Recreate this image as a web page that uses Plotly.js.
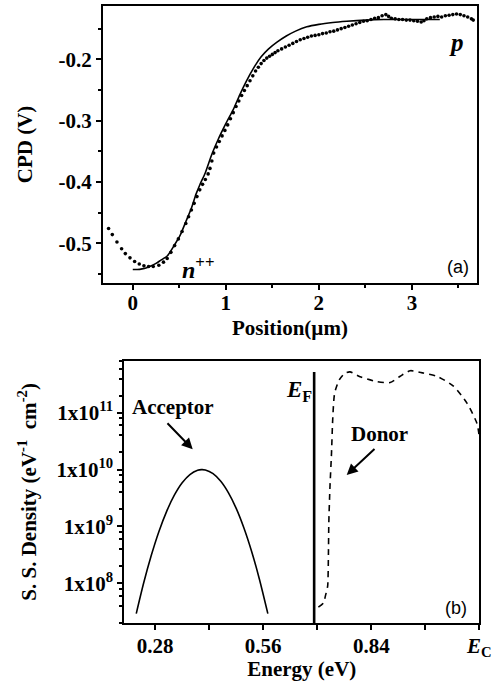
<!DOCTYPE html>
<html>
<head>
<meta charset="utf-8">
<script src="https://cdn.plot.ly/plotly-3.0.1.min.js"></script>
<style>
  html, body { margin: 0; padding: 0; background: #fff; }
  #chart { width: 493px; height: 683px; }
</style>
</head>
<body>
<div id="chart"></div>
<script>
// (a) contact potential difference across the n++/p junction
const posMeas = [-0.26,-0.22,-0.17,-0.12,-0.08,-0.03,0.02,0.07,0.12,0.17,0.22,0.28,0.33,0.37,0.41,0.45,0.49,0.53,0.57,0.60,0.63,0.66,0.69,0.72,0.75,0.78,0.81,0.83,0.85,0.87,0.90,0.93,0.96,0.99,1.02,1.05,1.08,1.11,1.14,1.17,1.20,1.23,1.26,1.29,1.32,1.35,1.38,1.41,1.44,1.47,1.50,1.53,1.56,1.60,1.64,1.68,1.72,1.76,1.80,1.84,1.88,1.92,1.96,2.00,2.04,2.08,2.12,2.16,2.20,2.24,2.28,2.32,2.36,2.40,2.44,2.48,2.52,2.56,2.60,2.64,2.68,2.72,2.75,2.78,2.82,2.86,2.90,2.94,2.98,3.02,3.06,3.10,3.13,3.16,3.20,3.24,3.28,3.32,3.36,3.40,3.44,3.48,3.52,3.56,3.60,3.64,3.66];
const cpdMeas = [-0.476,-0.486,-0.498,-0.509,-0.517,-0.524,-0.530,-0.534,-0.537,-0.538,-0.538,-0.536,-0.531,-0.525,-0.515,-0.504,-0.493,-0.481,-0.468,-0.457,-0.446,-0.435,-0.424,-0.413,-0.404,-0.396,-0.387,-0.378,-0.366,-0.353,-0.343,-0.334,-0.325,-0.316,-0.307,-0.297,-0.287,-0.277,-0.268,-0.259,-0.251,-0.243,-0.235,-0.227,-0.219,-0.213,-0.207,-0.202,-0.198,-0.195,-0.192,-0.189,-0.186,-0.183,-0.180,-0.177,-0.174,-0.171,-0.168,-0.166,-0.164,-0.162,-0.161,-0.160,-0.158,-0.157,-0.155,-0.154,-0.152,-0.150,-0.148,-0.146,-0.144,-0.142,-0.140,-0.138,-0.137,-0.135,-0.133,-0.132,-0.129,-0.127,-0.130,-0.133,-0.134,-0.135,-0.135,-0.136,-0.136,-0.137,-0.138,-0.139,-0.137,-0.134,-0.132,-0.131,-0.130,-0.131,-0.129,-0.128,-0.127,-0.126,-0.127,-0.129,-0.131,-0.134,-0.136];
const posFit = [0.00,0.05,0.10,0.15,0.20,0.25,0.30,0.37,0.44,0.51,0.57,0.63,0.68,0.72,0.78,0.85,0.92,1.00,1.08,1.15,1.22,1.30,1.38,1.46,1.55,1.65,1.75,1.87,2.00,2.15,2.30,2.50,2.70,2.90,3.10,3.30];
const cpdFit = [-0.543,-0.543,-0.542,-0.540,-0.537,-0.533,-0.528,-0.521,-0.505,-0.487,-0.465,-0.443,-0.420,-0.405,-0.385,-0.355,-0.330,-0.305,-0.282,-0.258,-0.236,-0.214,-0.196,-0.183,-0.172,-0.162,-0.154,-0.147,-0.143,-0.140,-0.138,-0.136,-0.135,-0.135,-0.135,-0.135];
const cpdTicks = [-0.5,-0.4,-0.3,-0.2];
const cpdTickText = ['-0.5','-0.4','-0.3','-0.2'];
const posTicks = [0,1,2,3];

// (b) surface state density versus energy
const energyAcc = [0.231,0.25,0.27,0.29,0.31,0.33,0.35,0.37,0.39,0.40,0.41,0.43,0.45,0.47,0.49,0.51,0.53,0.55,0.572];
const densAcc = [2.92e7,9.97e7,3.10e8,8.24e8,1.86e9,3.58e9,5.87e9,8.19e9,9.74e9,1.0e10,9.86e9,8.49e9,6.24e9,3.90e9,2.08e9,9.40e8,3.63e8,1.19e8,2.92e7];
const energyDon = [0.703,0.716,0.722,0.727,0.729,0.730,0.733,0.737,0.740,0.745,0.757,0.772,0.785,0.811,0.854,0.889,0.915,0.941,0.975,1.010,1.053,1.088,1.114,1.12];
const densDon = [3.8e7,4.5e7,6.3e7,8.9e7,3.2e8,1.15e9,5.0e9,1.95e10,7.4e10,2.2e11,3.8e11,5.0e11,5.25e11,4.3e11,3.55e11,3.4e11,4.4e11,5.5e11,5.0e11,4.4e11,2.95e11,1.48e11,6.5e10,3.8e10];
const fermiLevel = 0.692;
const fermiLineSpan = [1e7, 5.2e11];
const energyTicks = [0.28,0.56,0.84,1.12];
const energyTickText = ['0.28','0.56','0.84','<i>E</i><sub>C</sub>'];
const energyMinor = [0.42,0.70,0.98];
const densTicks = [1e8,1e9,1e10,1e11];
const densTickText = ['1x10<sup>8</sup>','1x10<sup>9</sup>','1x10<sup>10</sup>','1x10<sup>11</sup>'];
const densMinorMantissa = [2,4,6,8];

const serif = '"Liberation Serif", "Times New Roman", serif';
const boldFont = (size) => ({family: serif, size: size, color: '#000', weight: 'bold'});
const bold = (s) => '<b>' + s + '</b>';

// minor tick positions on the log axis: 2,4,6,8 times each decade
const densMinor = [];
[1e7,1e8,1e9,1e10,1e11].forEach(d => densMinorMantissa.forEach(m => densMinor.push(m*d)));

const traces = [
  {x: posMeas, y: cpdMeas, xaxis: 'x', yaxis: 'y', type: 'scatter', mode: 'markers',
   marker: {color: '#000', size: 3.6}, hoverinfo: 'skip'},
  {x: posFit, y: cpdFit, xaxis: 'x', yaxis: 'y', type: 'scatter', mode: 'lines',
   line: {color: '#000', width: 1.6, shape: 'spline', smoothing: 0.6}, hoverinfo: 'skip'},
  {x: energyAcc, y: densAcc, xaxis: 'x2', yaxis: 'y2', type: 'scatter', mode: 'lines',
   line: {color: '#000', width: 1.6, shape: 'spline', smoothing: 0.8}, hoverinfo: 'skip'},
  {x: energyDon, y: densDon, xaxis: 'x2', yaxis: 'y2', type: 'scatter', mode: 'lines',
   line: {color: '#000', width: 1.6, dash: '6px,5px', shape: 'spline', smoothing: 0.6}, hoverinfo: 'skip'},
  {x: [fermiLevel, fermiLevel], y: fermiLineSpan, xaxis: 'x2', yaxis: 'y2', type: 'scatter', mode: 'lines',
   line: {color: '#000', width: 2.6}, hoverinfo: 'skip'}
];

const axisCommon = {
  showline: true, linecolor: '#000', linewidth: 2, mirror: true,
  ticks: 'outside', ticklen: 5, tickwidth: 2, tickcolor: '#000',
  showgrid: false, zeroline: false, tickfont: boldFont(21)
};

const P = (px) => px / 493;
const Q = (py) => 1 - py / 683;

const layout = {
  width: 493, height: 683,
  margin: {l: 0, r: 0, t: 0, b: 0},
  paper_bgcolor: '#fff', plot_bgcolor: '#fff',
  showlegend: false,
  xaxis: Object.assign({}, axisCommon, {
    domain: [P(103), P(477)], range: [-0.32, 3.70], anchor: 'y',
    tickmode: 'array', tickvals: posTicks, ticktext: posTicks.map(v => bold(String(v))),
    ticklabelstandoff: -5,
    minor: {tickvals: [0.5,1.5,2.5,3.5], ticks: 'outside', ticklen: 3, tickwidth: 2, tickcolor: '#000'},
    title: {text: bold('Position(µm)'), font: boldFont(21), standoff: 6}
  }),
  yaxis: Object.assign({}, axisCommon, {
    domain: [Q(283), Q(6)], range: [-0.565, -0.113], anchor: 'x',
    tickmode: 'array', tickvals: cpdTicks, ticktext: cpdTickText.map(bold),
    minor: {tickvals: [-0.55,-0.45,-0.35,-0.25,-0.15], ticks: 'outside', ticklen: 3, tickwidth: 2, tickcolor: '#000'},
    title: {text: bold('CPD (V)'), font: boldFont(21), standoff: 20}
  }),
  xaxis2: Object.assign({}, axisCommon, {
    domain: [P(124.3), P(479.3)], range: [0.2, 1.12], anchor: 'y2',
    tickmode: 'array', tickvals: energyTicks, ticktext: energyTickText.map(bold),
    ticklabelstandoff: -3,
    minor: {tickvals: energyMinor, ticks: 'outside', ticklen: 5, tickwidth: 2, tickcolor: '#000'},
    title: {text: bold('Energy (eV)'), font: boldFont(21), standoff: 0}
  }),
  yaxis2: Object.assign({}, axisCommon, {
    type: 'log',
    domain: [Q(623.3), Q(360.5)], range: [7.295, 11.92], anchor: 'x2',
    tickmode: 'array', tickvals: densTicks, ticktext: densTickText.map(bold),
    minor: {tickvals: densMinor, ticks: 'outside', ticklen: 3, tickwidth: 2, tickcolor: '#000'},
    title: {text: bold('S. S. Density (eV<sup>-1</sup>  cm<sup>-2</sup>)'), font: boldFont(21), standoff: 14}
  }),
  annotations: [
    {xref: 'paper', yref: 'paper', x: P(456.7), y: Q(43), text: bold('<i>p</i>'), showarrow: false,
     font: boldFont(25), xanchor: 'center', yanchor: 'middle'},
    {xref: 'paper', yref: 'paper', x: P(180), y: Q(268), text: bold('<i>n</i><sup>++</sup>'), showarrow: false,
     font: boldFont(24), xanchor: 'left', yanchor: 'middle'},
    {xref: 'paper', yref: 'paper', x: P(457.5), y: Q(267.5), text: '(a)', showarrow: false,
     font: {family: '"Liberation Sans", Arial, sans-serif', size: 18, color: '#000'}, xanchor: 'center', yanchor: 'middle'},
    {xref: 'paper', yref: 'paper', x: P(456), y: Q(608), text: '(b)', showarrow: false,
     font: {family: '"Liberation Sans", Arial, sans-serif', size: 18, color: '#000'}, xanchor: 'center', yanchor: 'middle'},
    {xref: 'paper', yref: 'paper', x: P(173), y: Q(407), text: bold('Acceptor'), showarrow: false,
     font: boldFont(21), xanchor: 'center', yanchor: 'middle'},
    {xref: 'paper', yref: 'paper', x: P(379), y: Q(434), text: bold('Donor'), showarrow: false,
     font: boldFont(21), xanchor: 'center', yanchor: 'middle'},
    {xref: 'paper', yref: 'paper', x: P(299), y: Q(391), text: bold('<i>E</i><sub>F</sub>'), showarrow: false,
     font: boldFont(23), xanchor: 'center', yanchor: 'middle'},
    {xref: 'paper', yref: 'paper', x: P(192.7), y: Q(449.3), text: '', showarrow: true,
     ax: -26.7, ay: -27.6, arrowhead: 2, arrowsize: 1.1, arrowwidth: 2, arrowcolor: '#000', standoff: 0},
    {xref: 'paper', yref: 'paper', x: P(346.7), y: Q(475), text: '', showarrow: true,
     ax: 29.3, ay: -27.3, arrowhead: 2, arrowsize: 1.1, arrowwidth: 2, arrowcolor: '#000', standoff: 0}
  ]
};

Plotly.newPlot('chart', traces, layout, {staticPlot: true, displayModeBar: false});
</script>
</body>
</html>
